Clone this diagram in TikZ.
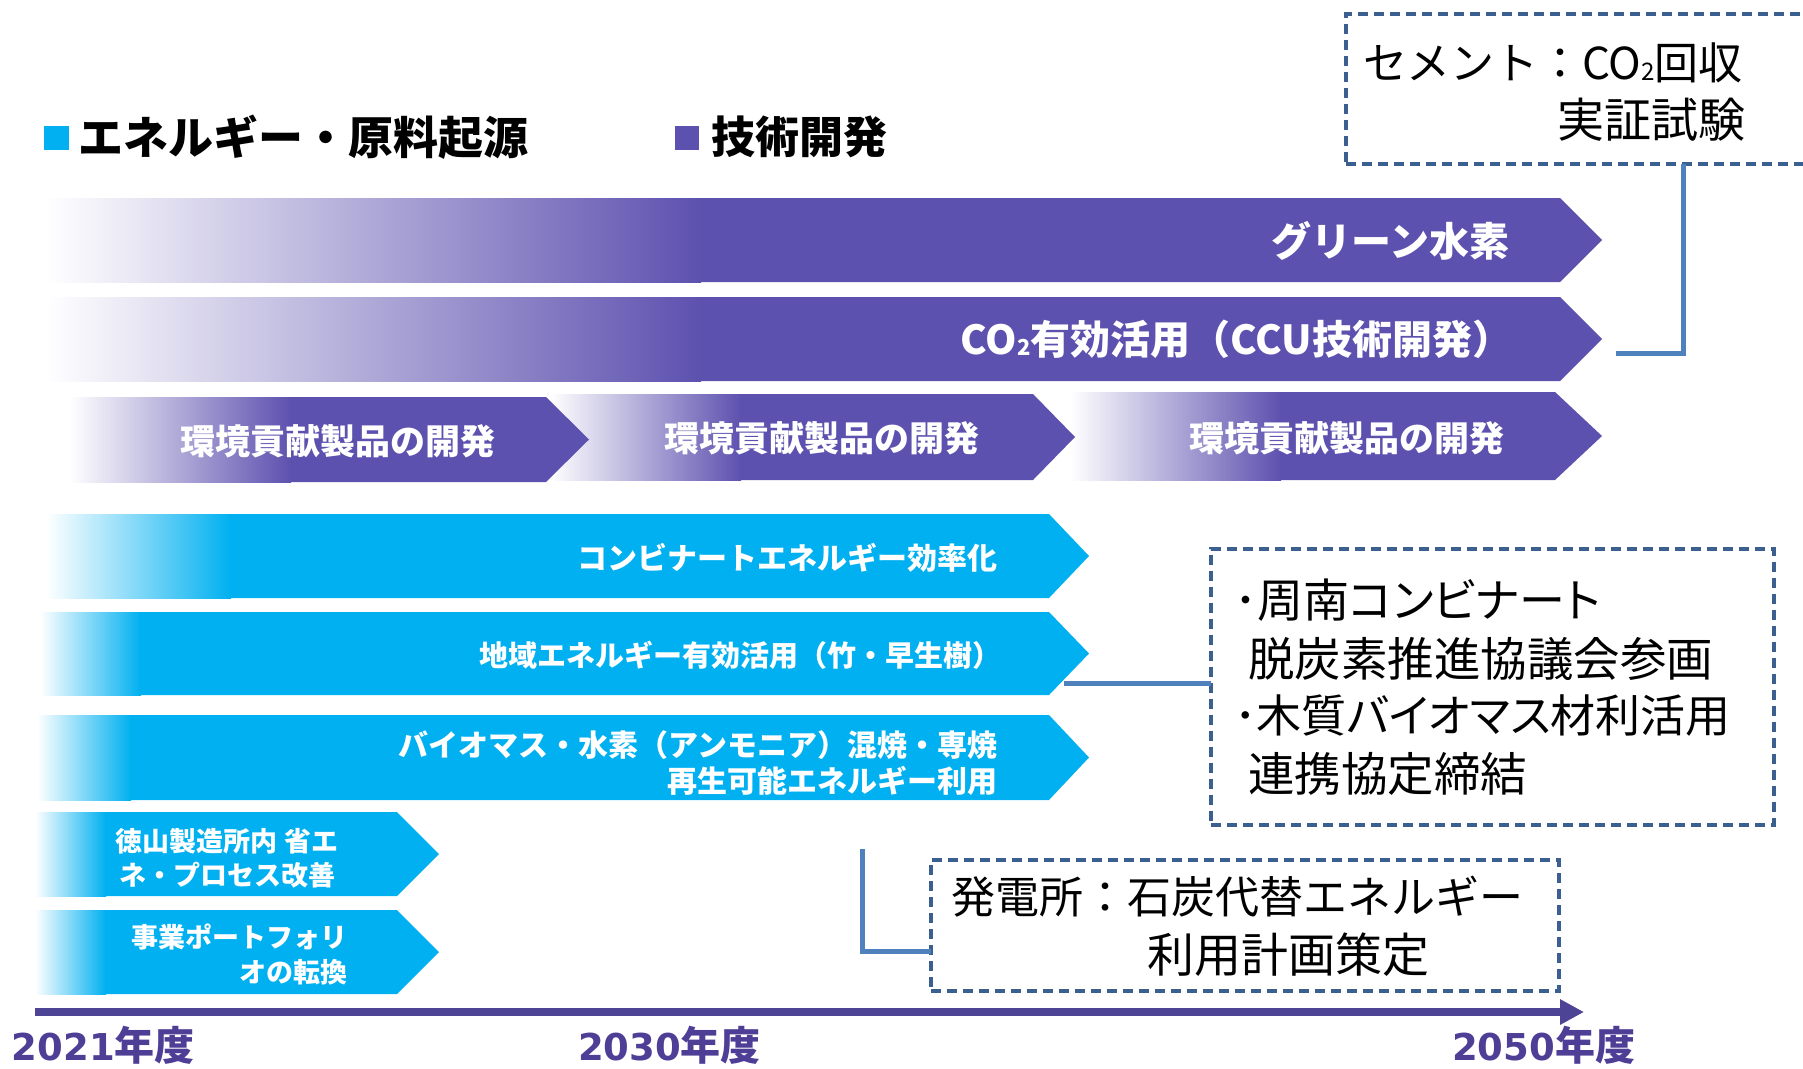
\documentclass[tikz,border=0pt]{standalone}
\usepackage{fontspec}
\setmainfont{Noto Sans CJK JP}
\newfontfamily\jpp[RawFeature=+palt]{Noto Sans CJK JP}
\newfontfamily\dvs{DejaVu Sans}
\usetikzlibrary{arrows.meta}
\definecolor{tpurple}{RGB}{93,81,175}
\definecolor{tcyan}{RGB}{0,176,240}
\definecolor{dborder}{RGB}{59,95,143}
\definecolor{conncol}{RGB}{79,129,189}
\definecolor{axiscol}{RGB}{78,68,150}
\definecolor{yearcol}{RGB}{78,62,150}
\newcommand{\fsz}[2]{\fontsize{#1}{#2}\selectfont}
\newcommand{\subtwo}{\raisebox{-0.03em}{\scalebox{0.55}{2}}}
\newcommand{\bararrow}[7]{%
  \shade[left color=white,right color=#7] (#1,#5) rectangle (#2+1,#6);
  \fill[#7] (#2,#5) -- (#3,#5) -- (#4,{(#5+#6)/2}) -- (#3,#6) -- (#2,#6) -- cycle;}
\newcommand{\yearlab}[1]{{\dvs\bfseries\fsz{37}{44}#1}{\bfseries\fsz{40}{48}年度}}
\begin{document}
\begin{tikzpicture}[x=1pt,y=-1pt,
  every node/.style={inner sep=0pt, outer sep=0pt},
  dbox/.style={draw=dborder, line width=3.3pt, dash pattern=on 10pt off 6pt, rectangle, anchor=north west},
  conn/.style={draw=conncol, line width=5pt},
  wtxt/.style={text=white},
  btxt/.style={text=black, anchor=west},
  yr/.style={text=yearcol, anchor=west}]
\useasboundingbox (0,0) rectangle (1803,1068);
\clip (0,0) rectangle (1803,1068);
\fill[white] (0,0) rectangle (1803,1068);

% legend
\fill[tcyan] (44,126) rectangle (69,150);
\node[anchor=west, font=\fsz{45}{52}\bfseries] (leg1) at (78,137) {エネルギー・原料起源};
\fill[tpurple] (675,126) rectangle (699,150);
\node[anchor=west, font=\fsz{44}{52}\bfseries] (leg2) at (711,137) {技術開発};

% purple rows
\bararrow{46}{700}{1560}{1602}{198}{282}{tpurple}
\node[wtxt, anchor=east, font=\fsz{40}{48}\bfseries] (t1) at (1509,241) {グリーン水素};
\bararrow{46}{700}{1560}{1602}{297}{381}{tpurple}
\node[wtxt, anchor=east, font=\fsz{40}{48}\bfseries] (t2) at (1512,339) {CO\subtwo 有効活用（CCU技術開発）};

\bararrow{1070}{1280}{1555}{1602}{392}{480}{tpurple}
\bararrow{550}{740}{1033}{1075}{394}{480}{tpurple}
\bararrow{69}{290}{546}{589}{397}{482}{tpurple}
\node[wtxt, font=\fsz{35}{42}\bfseries] (t3a) at (338,441) {環境貢献製品の開発};
\node[wtxt, font=\fsz{35}{42}\bfseries] (t3b) at (822,438) {環境貢献製品の開発};
\node[wtxt, font=\fsz{35}{42}\bfseries] (t3c) at (1347,438) {環境貢献製品の開発};

% cyan rows
\bararrow{46}{230}{1049}{1089}{514}{598}{tcyan}
\node[wtxt, anchor=east, font=\fsz{30}{36}\bfseries] (t4) at (997,558) {コンビナートエネルギー効率化};
\bararrow{40}{140}{1049}{1089}{612}{695}{tcyan}
\node[wtxt, anchor=east, font=\fsz{29}{35}\bfseries] (t5) at (1001,655) {地域エネルギー有効活用（竹・早生樹）};
\bararrow{37}{130}{1049}{1089}{715}{800}{tcyan}
\node[wtxt, anchor=east, align=right, font=\fsz{30}{36}\bfseries] (t6) at (997,763) {バイオマス・水素（アンモニア）混焼・専焼\\再生可能エネルギー利用};
\bararrow{35}{105}{397}{439}{812}{896}{tcyan}
\node[wtxt, align=center, font=\fsz{27}{34}\bfseries] (t7) at (227,858) {徳山製造所内 省エ\\ネ・プロセス改善};
\bararrow{35}{105}{397}{439}{910}{994}{tcyan}
\node[wtxt, anchor=east, align=right, font=\fsz{27}{35}\bfseries] (t8) at (347,954) {事業ポートフォリ\\オの転換};

% box 1
\node[dbox, minimum width=480pt, minimum height=150pt] (box1) at (1346,14) {};
\node[btxt, font=\fsz{44}{50}] (b1a) at (1363,63) {セメント：CO\subtwo 回収};
\node[btxt, font=\fsz{47}{52}] (b1b) at (1557,120) {実証試験};
\coordinate (c1) at (1616,353);
\draw[conn] ([xshift=337pt]box1.south west) |- (c1);

% box 2
\node[dbox, minimum width=563pt, minimum height=276pt] (box2) at (1211,549) {};
\node[btxt, font=\jpp\fsz{46}{52}] (b2a) at (1234,600) {･周南コンビナート};
\node[btxt, font=\fsz{46.5}{52}] (b2b) at (1248,659) {脱炭素推進協議会参画};
\node[btxt, font=\jpp\fsz{45}{52}] (b2c) at (1234,716) {･木質バイオマス材利活用};
\node[btxt, font=\fsz{46.5}{52}] (b2d) at (1248,774) {連携協定締結};
\coordinate (c2) at (1064,683);
\draw[conn] (c2) -- (c2 -| box2.west);

% box 3
\node[dbox, minimum width=628pt, minimum height=131pt] (box3) at (931,860) {};
\node[btxt, font=\fsz{44}{50}] (b3a) at (951,897) {発電所：石炭代替エネルギー};
\node[btxt, font=\fsz{47}{52}] (b3b) at (1147,955) {利用計画策定};
\coordinate (c3) at (862,849);
\coordinate (c3e) at (0,951);
\draw[conn] (c3) |- (c3e -| box3.west);

% axis
\coordinate (ax0) at (35,1012);
\coordinate (ax1) at (1584,1012);
\draw[axiscol, line width=8pt, -{Triangle[length=24pt,width=24pt]}] (ax0) -- (ax1);
\node[yr] (y1) at (12,1045) {\yearlab{2021}};
\node[yr] (y2) at (578,1045) {\yearlab{2030}};
\node[yr] (y3) at (1452,1045) {\yearlab{2050}};
\end{tikzpicture}
\end{document}
